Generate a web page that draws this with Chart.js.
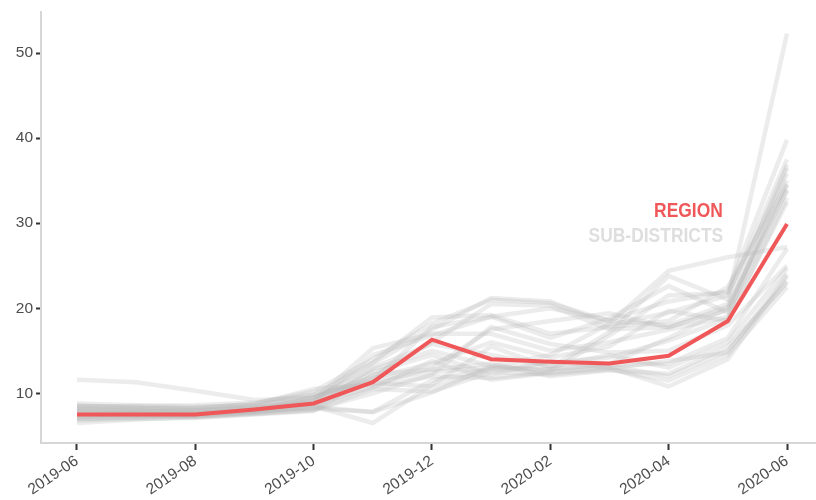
<!DOCTYPE html>
<html>
<head>
<meta charset="utf-8">
<script src="https://cdn.jsdelivr.net/npm/chart.js@4/dist/chart.umd.min.js"></script>
<style>
    body { margin: 0; background: #ffffff; }
    #wrap { position: relative; width: 816px; height: 500px; }
    .note {
        position: absolute;
        font-family: "Liberation Sans", Arial, sans-serif;
        font-weight: bold;
        font-size: 21px;
        line-height: 21px;
        text-align: right;
        white-space: nowrap;
        transform: scaleX(0.83);
        transform-origin: right center;
    }
</style>
</head>
<body>
<div id="wrap">
    <canvas id="chart" width="816" height="500"></canvas>
    <div class="note" style="right: 93px; top: 199px; color: #ef5759;">REGION</div>
    <div class="note" style="right: 93px; top: 224px; color: #dedede;">SUB-DISTRICTS</div>
</div>
<script>
// ============================================
// DATA
// ============================================

const months = ['2019-06', '2019-07', '2019-08', '2019-09', '2019-10', '2019-11', '2019-12',
                '2020-01', '2020-02', '2020-03', '2020-04', '2020-05', '2020-06'];

const tickLabels = ['2019-06', '2019-08', '2019-10', '2019-12', '2020-02', '2020-04', '2020-06'];

const yTicks = [10, 20, 30, 40, 50];

const region = [7.5, 7.5, 7.5, 8.1, 8.8, 11.3, 16.3, 14.0, 13.7, 13.5, 14.4, 18.5, 29.9];

const sub01 = [11.6, 11.3, 10.3, 9.2, 9.5, 11.5, 12.5, 13.0, 12.8, 13.5, 16.5, 20.0, 35.0];
const sub02 = [8.8, 8.6, 8.4, 8.6, 9.8, 13.5, 17.5, 21.2, 20.8, 18.0, 19.5, 21.5, 37.5];
const sub03 = [8.5, 8.4, 8.2, 8.8, 10.2, 14.0, 18.2, 21.0, 20.6, 18.5, 18.0, 20.5, 36.9];
const sub04 = [8.2, 8.0, 8.0, 8.5, 9.5, 12.0, 16.0, 20.5, 20.3, 17.5, 17.8, 19.8, 34.5];
const sub05 = [7.8, 7.9, 7.8, 8.3, 9.0, 11.5, 17.8, 19.0, 16.5, 18.8, 22.6, 19.5, 34.0];
const sub06 = [7.0, 7.2, 7.3, 7.8, 8.5, 6.5, 11.0, 15.5, 13.0, 17.2, 23.8, 21.0, 52.3];
const sub07 = [7.5, 7.6, 7.6, 8.0, 8.2, 7.8, 10.1, 13.2, 14.5, 18.2, 24.4, 26.0, 27.2];
const sub08 = [6.5, 6.9, 7.2, 7.6, 8.0, 10.5, 10.2, 12.5, 12.2, 12.8, 11.5, 14.5, 22.5];
const sub09 = [7.2, 7.4, 7.5, 7.9, 8.6, 10.8, 12.0, 11.8, 12.5, 13.2, 12.0, 15.0, 23.2];
const sub10 = [8.0, 8.1, 7.9, 8.2, 8.8, 12.5, 14.5, 12.2, 13.8, 13.0, 10.8, 14.0, 23.8];
const sub11 = [7.6, 7.4, 7.2, 7.7, 8.3, 13.0, 15.8, 14.5, 13.2, 14.5, 13.0, 16.0, 24.7];
const sub12 = [8.6, 8.3, 8.1, 8.4, 9.2, 15.3, 17.0, 17.0, 15.0, 16.0, 17.5, 19.0, 36.5];
const sub13 = [7.9, 7.7, 7.4, 7.9, 9.6, 11.8, 13.5, 16.0, 14.2, 15.5, 19.7, 18.5, 33.0];
const sub14 = [7.3, 7.5, 7.7, 8.1, 8.9, 14.5, 16.8, 19.0, 20.0, 18.6, 20.8, 22.0, 39.8];
const sub15 = [6.8, 7.0, 7.1, 7.5, 7.9, 12.2, 12.8, 13.5, 12.0, 12.7, 12.3, 15.5, 23.0];
const sub16 = [8.3, 8.2, 8.3, 8.7, 10.5, 11.0, 13.0, 17.5, 18.5, 19.4, 17.7, 20.2, 33.8];
const sub17 = [7.1, 7.3, 7.4, 7.8, 8.4, 7.8, 11.5, 12.9, 13.6, 14.2, 16.2, 18.8, 32.5];
const sub18 = [7.7, 7.8, 8.0, 8.3, 9.4, 12.8, 15.0, 13.2, 12.6, 16.8, 21.5, 21.8, 35.8];
const sub19 = [8.1, 7.9, 7.7, 8.0, 8.7, 10.6, 13.8, 11.6, 12.4, 12.9, 13.8, 14.8, 24.0];
const sub20 = [7.4, 7.6, 7.5, 8.1, 9.1, 13.6, 18.9, 19.2, 17.0, 17.8, 18.5, 22.5, 34.6];
const sub21 = [8.4, 8.5, 8.6, 8.9, 9.9, 11.2, 10.8, 12.8, 12.9, 13.3, 13.5, 16.5, 27.0];
const sub22 = [7.0, 7.1, 7.3, 7.6, 8.1, 10.0, 12.2, 17.8, 15.8, 14.8, 15.0, 18.0, 25.0];

const subDistricts = [sub01, sub02, sub03, sub04, sub05, sub06, sub07, sub08, sub09, sub10, sub11,
                      sub12, sub13, sub14, sub15, sub16, sub17, sub18, sub19, sub20, sub21, sub22];

// ============================================
// CHART
// ============================================

function toPoints(values) {
    return values.map((v, i) => ({ x: i, y: v }));
}

const datasets = [{
    data: toPoints(region),
    borderColor: '#ef5759',
    borderWidth: 4,
    pointRadius: 0,
    tension: 0,
    order: 0
}];

subDistricts.forEach(values => {
    datasets.push({
        data: toPoints(values),
        borderColor: 'rgba(185, 185, 185, 0.27)',
        borderWidth: 4.5,
        pointRadius: 0,
        tension: 0,
        order: 1
    });
});

const tickFont = { family: '"Liberation Sans", Arial, sans-serif', size: 15.5 };

new Chart(document.getElementById('chart'), {
    type: 'line',
    data: { datasets: datasets },
    options: {
        responsive: false,
        animation: false,
        layout: { padding: { top: 10, right: 0, left: 0, bottom: 0 } },
        plugins: {
            legend: { display: false },
            tooltip: { enabled: false }
        },
        scales: {
            x: {
                type: 'linear',
                min: -0.608,
                max: 12.49,
                afterBuildTicks: scale => {
                    scale.ticks = tickLabels.map(l => ({ value: months.indexOf(l) }));
                },
                afterFit: scale => { scale.height = 57; },
                ticks: {
                    color: '#4d4d4d',
                    font: tickFont,
                    minRotation: 34,
                    maxRotation: 34,
                    padding: 2,
                    callback: v => months[v]
                },
                grid: {
                    drawOnChartArea: false,
                    tickLength: 7,
                    tickColor: '#333333',
                    tickWidth: 2
                },
                border: { color: '#d6d6d6', width: 2 }
            },
            y: {
                min: 4.15,
                max: 54.8,
                afterBuildTicks: scale => {
                    scale.ticks = yTicks.map(v => ({ value: v }));
                },
                afterFit: scale => { scale.width = 41; },
                ticks: {
                    color: '#4d4d4d',
                    font: tickFont,
                    padding: 3
                },
                grid: {
                    drawOnChartArea: false,
                    tickLength: 5,
                    tickColor: '#333333',
                    tickWidth: 2
                },
                border: { color: '#d6d6d6', width: 2 }
            }
        }
    }
});
</script>
</body>
</html>
